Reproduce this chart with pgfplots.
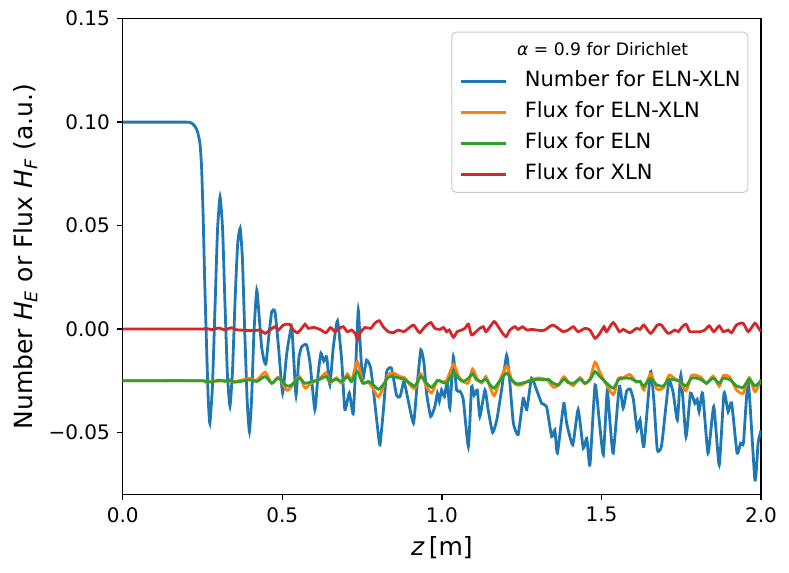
\documentclass[border=0pt]{standalone}
\usepackage{pgfplots}
\pgfplotsset{compat=1.18}
\usepackage{pgfplotstable}
\usepackage{fontspec}
\setmainfont{DejaVu Sans}
\definecolor{tabblue}{HTML}{1F77B4}
\definecolor{taborange}{HTML}{FF7F0E}
\definecolor{tabgreen}{HTML}{2CA02C}
\definecolor{tabred}{HTML}{D62728}
\definecolor{leggray}{HTML}{CCCCCC}

\pgfplotstableread{
z y
0 0.1
0.1 0.1
0.2 0.1
0.212 0.0998
0.224 0.0985
0.234 0.0955
0.242 0.0897
0.247 0.0784
0.252 0.0543
0.257 0.022
0.263 -0.0101
0.268 -0.0343
0.273 -0.0456
0.281 -0.028
0.289 0.010
0.297 0.048
0.305 0.0639
0.313 0.048
0.320 0.014
0.328 -0.022
0.336 -0.0372
0.344 -0.020
0.352 0.014
0.360 0.041
0.368 0.0487
0.375 0.034
0.382 0.000
0.390 -0.035
0.397 -0.0496
0.404 -0.033
0.411 -0.002
0.420 0.0188
0.428 0.005
0.435 -0.0085
0.443 -0.0155
0.449 -0.0166
0.458 -0.003
0.467 0.0084
0.477 0.0084
0.488 -0.0085
0.501 -0.031
0.514 -0.0117
0.529 0.001
0.536 -0.015
0.543 -0.032
0.552 -0.014
0.561 -0.0085
0.576 -0.0077
0.587 -0.0166
0.602 -0.039
0.612 -0.022
0.621 -0.0117
0.630 -0.0155
0.639 -0.0134
0.649 -0.027
0.660 -0.0085
0.673 0.004
0.686 -0.015
0.696 -0.039
0.710 -0.031
0.722 -0.041
0.730 -0.018
0.738 0.0092
0.745 -0.010
0.752 -0.0246
0.764 -0.015
0.777 -0.019
0.790 -0.036
0.798 -0.047
0.806 -0.056
0.818 -0.037
0.827 -0.0206
0.842 -0.019
0.858 -0.032
0.869 -0.0327
0.881 -0.0254
0.892 -0.0327
0.911 -0.0455
0.921 -0.0295
0.934 -0.0101
0.944 -0.0166
0.952 -0.031
0.965 -0.0423
0.978 -0.0375
0.986 -0.031
0.992 -0.035
0.999 -0.0295
1.008 -0.0327
1.017 -0.0254
1.025 -0.0383
1.036 -0.0134
1.046 -0.0295
1.056 -0.030
1.067 -0.034
1.083 -0.0568
1.093 -0.028
1.101 -0.032
1.111 -0.0295
1.119 -0.0423
1.135 -0.0295
1.145 -0.039
1.159 -0.050
1.172 -0.044
1.187 -0.0295
1.203 -0.0126
1.213 -0.026
1.224 -0.0455
1.239 -0.051
1.255 -0.0335
1.266 -0.039
1.281 -0.0238
1.297 -0.0295
1.313 -0.036
1.328 -0.0375
1.344 -0.052
1.354 -0.0488
1.362 -0.060
1.382 -0.036
1.391 -0.0455
1.410 -0.056
1.427 -0.039
1.443 -0.0576
1.454 -0.0528
1.464 -0.0657
1.480 -0.0270
1.493 -0.044
1.506 -0.0608
1.518 -0.030
1.527 -0.0455
1.537 -0.060
1.556 -0.0278
1.568 -0.0383
1.579 -0.030
1.590 -0.029
1.600 -0.034
1.612 -0.0488
1.621 -0.0439
1.633 -0.0568
1.654 -0.0206
1.664 -0.034
1.675 -0.0584
1.688 -0.0568
1.702 -0.0375
1.712 -0.0246
1.725 -0.031
1.738 -0.044
1.749 -0.0222
1.765 -0.052
1.779 -0.031
1.793 -0.036
1.800 -0.034
1.806 -0.040
1.817 -0.031
1.834 -0.060
1.852 -0.0375
1.869 -0.0657
1.884 -0.031
1.897 -0.040
1.908 -0.0357
1.925 -0.060
1.936 -0.0552
1.945 -0.055
1.960 -0.0254
1.981 -0.073
1.991 -0.055
2.000 -0.049
}\numbertable

\pgfplotstableread{
z y
0 -0.0250
0.24 -0.0250
0.26 -0.0257
0.28 -0.0253
0.30 -0.0252
0.32 -0.0249
0.335 -0.0252
0.35 -0.0254
0.3675 -0.0249
0.399 -0.0239
0.420 -0.0248
0.446 -0.0209
0.467 -0.0263
0.488 -0.0233
0.514 -0.0296
0.529 -0.0278
0.553 -0.0229
0.571 -0.0285
0.592 -0.0260
0.613 -0.0246
0.637 -0.0212
0.649 -0.0259
0.670 -0.0236
0.686 -0.0262
0.704 -0.0217
0.717 -0.0249
0.735 -0.0158
0.752 -0.0256
0.770 -0.0258
0.785 -0.0290
0.801 -0.0328
0.816 -0.0281
0.832 -0.0220
0.848 -0.0212
0.869 -0.0230
0.884 -0.0236
0.900 -0.0270
0.916 -0.0286
0.934 -0.0218
0.952 -0.0279
0.968 -0.0309
0.986 -0.0249
0.999 -0.0257
1.015 -0.0249
1.036 -0.0171
1.052 -0.0228
1.067 -0.0253
1.083 -0.0261
1.096 -0.0193
1.109 -0.0236
1.125 -0.0261
1.138 -0.0230
1.151 -0.0281
1.164 -0.0322
1.182 -0.0249
1.203 -0.0179
1.219 -0.0247
1.234 -0.0270
1.250 -0.0270
1.271 -0.0250
1.286 -0.0243
1.302 -0.0237
1.318 -0.0240
1.333 -0.0250
1.349 -0.0281
1.365 -0.0273
1.382 -0.0231
1.396 -0.0254
1.412 -0.0273
1.433 -0.0235
1.448 -0.0265
1.464 -0.0241
1.480 -0.0161
1.495 -0.0209
1.511 -0.0256
1.537 -0.0317
1.553 -0.0238
1.568 -0.0236
1.589 -0.0220
1.610 -0.0257
1.621 -0.0252
1.633 -0.0294
1.654 -0.0217
1.673 -0.0289
1.694 -0.0285
1.712 -0.0223
1.730 -0.0241
1.746 -0.0254
1.765 -0.0298
1.782 -0.0225
1.798 -0.0225
1.814 -0.0236
1.829 -0.0264
1.850 -0.0228
1.869 -0.0277
1.882 -0.0225
1.903 -0.0234
1.923 -0.0294
1.944 -0.0310
1.963 -0.0235
1.981 -0.0303
2.000 -0.0245
}\fluxtable

\pgfplotstableread{
z y
0 -0.0250
0.24 -0.0250
0.26 -0.0254
0.28 -0.0256
0.30 -0.0247
0.32 -0.0253
0.335 -0.0246
0.35 -0.0257
0.3675 -0.0254
0.399 -0.0246
0.420 -0.0254
0.446 -0.0230
0.467 -0.0262
0.488 -0.0238
0.514 -0.0275
0.529 -0.0270
0.553 -0.0238
0.571 -0.0262
0.592 -0.0254
0.613 -0.0246
0.637 -0.0230
0.649 -0.0254
0.670 -0.0243
0.686 -0.0254
0.704 -0.0230
0.717 -0.0254
0.735 -0.0206
0.752 -0.0262
0.770 -0.0254
0.785 -0.0270
0.801 -0.0291
0.816 -0.0270
0.832 -0.0233
0.848 -0.0230
0.869 -0.0238
0.884 -0.0246
0.900 -0.0262
0.916 -0.0275
0.934 -0.0230
0.952 -0.0262
0.968 -0.0282
0.986 -0.0249
0.999 -0.0254
1.015 -0.0262
1.036 -0.0211
1.052 -0.0238
1.067 -0.0254
1.083 -0.0238
1.096 -0.0217
1.109 -0.0246
1.125 -0.0254
1.138 -0.0243
1.151 -0.0270
1.164 -0.0286
1.182 -0.0249
1.203 -0.0214
1.219 -0.0246
1.234 -0.0265
1.250 -0.0262
1.271 -0.0254
1.286 -0.0246
1.302 -0.0243
1.318 -0.0246
1.333 -0.0243
1.349 -0.0262
1.365 -0.0270
1.382 -0.0243
1.396 -0.0259
1.412 -0.0262
1.433 -0.0243
1.448 -0.0262
1.464 -0.0246
1.480 -0.0206
1.495 -0.0230
1.511 -0.0254
1.537 -0.0286
1.553 -0.0246
1.568 -0.0238
1.589 -0.0238
1.610 -0.0254
1.621 -0.0254
1.633 -0.0275
1.654 -0.0238
1.673 -0.0270
1.694 -0.0275
1.712 -0.0243
1.730 -0.0246
1.746 -0.0254
1.765 -0.0275
1.782 -0.0238
1.798 -0.0238
1.814 -0.0246
1.829 -0.0262
1.850 -0.0238
1.869 -0.0262
1.882 -0.0238
1.903 -0.0246
1.923 -0.0275
1.944 -0.0282
1.963 -0.0243
1.981 -0.0275
2.000 -0.0250
}\elntable

\pgfplotstableread{
z y
0 0
0.24 0
0.26 0.0003
0.28 -0.0003
0.30 0.0005
0.32 -0.0004
0.34 0.0006
0.355 -0.0003
0.3675 -0.0005
0.409 -0.0008
0.430 -0.0005
0.446 -0.0021
0.461 -0.0005
0.477 0.0011
0.488 -0.0005
0.503 0.0019
0.522 0.0023
0.535 -0.0005
0.547 -0.0018
0.561 0.0003
0.571 0.0023
0.582 0.0003
0.597 0.0008
0.618 -0.0002
0.637 -0.0018
0.651 0.0007
0.665 -0.0013
0.679 0.0003
0.691 0.0011
0.704 -0.0013
0.717 -0.0005
0.728 -0.0021
0.736 -0.0050
0.743 -0.0021
0.759 0.0007
0.777 0.0003
0.790 0.0028
0.804 0.0040
0.816 0.0011
0.832 -0.0013
0.848 -0.0018
0.863 -0.0005
0.881 -0.0013
0.895 0.0003
0.911 0.0019
0.923 -0.0005
0.931 -0.0018
0.947 0.0011
0.965 0.0031
0.978 0.0003
0.994 -0.0002
1.005 0.0007
1.015 -0.0013
1.023 -0.0005
1.036 -0.0040
1.048 -0.0013
1.062 -0.0005
1.072 0.0003
1.083 0.0023
1.093 -0.0029
1.107 -0.0013
1.119 0.0003
1.130 0.0011
1.138 -0.0013
1.151 0.0011
1.164 0.0036
1.177 0.0011
1.187 -0.0013
1.201 -0.0037
1.213 -0.0005
1.229 0.0011
1.239 -0.0002
1.253 0.0011
1.266 -0.0005
1.281 -0.0002
1.297 -0.0005
1.313 -0.0008
1.323 -0.0005
1.337 0.0011
1.349 0.0019
1.365 0.0003
1.380 -0.0013
1.396 -0.0005
1.412 0.0011
1.427 -0.0013
1.448 0.0003
1.464 -0.0005
1.480 -0.0045
1.495 -0.0021
1.508 0.0011
1.516 -0.0013
1.537 0.0031
1.556 -0.0013
1.568 -0.0002
1.589 -0.0018
1.610 0.0003
1.621 -0.0002
1.633 0.0019
1.654 -0.0021
1.675 0.0019
1.688 0.0019
1.709 -0.0021
1.730 -0.0005
1.741 -0.0013
1.751 0.0007
1.765 0.0023
1.777 -0.0013
1.793 -0.0013
1.809 -0.0013
1.824 -0.0005
1.838 0.0015
1.852 -0.0013
1.869 0.0015
1.882 -0.0013
1.897 -0.0005
1.908 -0.0018
1.923 0.0019
1.944 0.0028
1.960 -0.0013
1.981 0.0028
1.996 -0.0005
2.000 -0.0010
}\xlntable

\begin{document}
\begin{tikzpicture}
\begin{axis}[
  scale only axis,
  width=319pt, height=237.8pt,
  xmin=0, xmax=2, ymin=-0.08, ymax=0.15,
  axis line style={black, line width=0.67pt},
  tick style={black, line width=0.67pt},
  major tick length=2.9pt,
  tick align=outside,
  xtick pos=bottom, ytick pos=left,
  xtick={0,0.5,1,1.5,2},
  xticklabels={0.0,0.5,1.0,1.5,2.0},
  ytick={-0.05,0,0.05,0.1,0.15},
  yticklabels={−0.05,0.00,0.05,0.10,0.15},
  ticklabel style={font=\fontsize{10}{12}\selectfont},
  xlabel={\textit{z}\,[m]},
  ylabel={Number \textit{H}\textsubscript{\textit{E}} or Flux \textit{H}\textsubscript{\textit{F}} (a.u.)},
  label style={font=\fontsize{12.5}{15}\selectfont},
  xlabel style={at={(axis description cs:0.5,-0.111)}, anchor=center},
  ylabel style={at={(axis description cs:-0.152,0.5)}, anchor=center},
  legend cell align=left,
  legend image code/.code={\draw[#1] (0pt,0pt) -- (22.5pt,0pt);},
  legend style={
    at={(rel axis cs:1,1)}, anchor=north east, xshift=-6.35pt, yshift=-6.5pt,
    draw=leggray, line width=0.5pt, rounded corners=2pt,
    fill=white, fill opacity=0.8, text opacity=1,
    font=\fontsize{10.5}{12}\selectfont,
    inner xsep=3.65pt, inner ysep=4.25pt,
    column sep=8.85pt, row sep=6pt,
    nodes={inner sep=0pt, text height=7.5pt, text depth=2pt},
  },
]
\coordinate (ll) at (rel axis cs:0,0);
\coordinate (ur) at (rel axis cs:1,1);
\addlegendimage{empty legend}
\addlegendentry{\hspace*{-3.85pt}\fontsize{8.6}{10}\selectfont\textit{α} = 0.9 for Dirichlet}
\addplot[tabblue, line width=1.4pt, smooth, tension=0.3] table[x=z,y=y] {\numbertable};
\addlegendentry{Number for ELN-XLN}
\addplot[taborange, line width=1.4pt, smooth, tension=0.4] table[x=z,y=y] {\fluxtable};
\addlegendentry{Flux for ELN-XLN}
\addplot[tabgreen, line width=1.4pt, smooth, tension=0.4] table[x=z,y=y] {\elntable};
\addlegendentry{Flux for ELN}
\addplot[tabred, line width=1.4pt, smooth, tension=0.4] table[x=z,y=y] {\xlntable};
\addlegendentry{Flux for XLN}
\end{axis}
\pgfresetboundingbox
\path[use as bounding box] ([xshift=-61.35pt,yshift=-38.85pt]ll) rectangle ([xshift=14pt,yshift=9.35pt]ur);
\end{tikzpicture}
\end{document}
